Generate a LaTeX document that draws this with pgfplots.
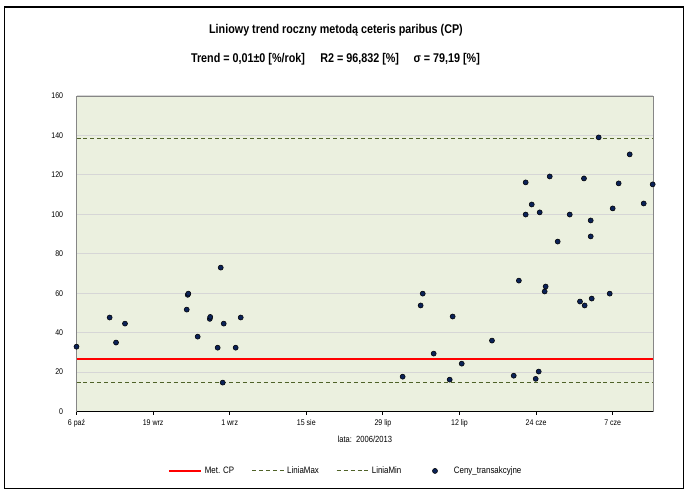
\documentclass[border=0pt]{standalone}
\usepackage{fontspec}
\setmainfont{Liberation Sans}[FakeStretch=0.85]
\usepackage{pgfplots}
\pgfplotsset{compat=1.18}
\definecolor{plotbg}{HTML}{EBF0DF}
\definecolor{gridc}{HTML}{D6D6D6}
\definecolor{boxc}{HTML}{868686}
\definecolor{olivec}{HTML}{4F6228}
\definecolor{dotc}{HTML}{0B2257}
\pgfplotsset{
  linelegend/.style={legend image code/.code={\draw[mark repeat=2,mark phase=2,##1] plot coordinates {(0pt,0pt)(12pt,0pt)(24pt,0pt)};}},
  dotlegend/.style={legend image code/.code={\path (0pt,0pt) (24pt,0pt); \draw[##1] plot[only marks,mark=*] coordinates {(12pt,0pt)};}},
}
\begin{document}
\begin{tikzpicture}
% picture frame, in pixels of the 693x495 reference (origin = bottom left of plot area)
\begin{scope}[x=0.75pt,y=-0.75pt,shift={(-76.5,-411.6)}]
\path (0,0) rectangle (693,495);
\draw[line width=1pt] (4.3,7) rectangle (683.3,488.3);
\node[font=\fontsize{9.5}{10}\selectfont\bfseries] at (336,30) {Liniowy trend roczny metodą ceteris paribus (CP)};
\node[font=\fontsize{9.5}{10}\selectfont\bfseries] at (248,59.5) {Trend = 0,01±0 [\%/rok]};
\node[font=\fontsize{9.5}{10}\selectfont\bfseries] at (359.7,59.5) {R2 = 96,832 [\%]};
\node[font=\fontsize{9.5}{10}\selectfont\bfseries] at (446.7,59.5) {σ = 79,19 [\%]};
\end{scope}
\begin{axis}[at={(0,0)},anchor=south west,scale only axis,
width=432.6pt,height=236.7pt,
xmin=0,xmax=7.53,ymin=0,ymax=160,clip=false,
xtick={0,1,...,7},
xticklabels={6 paź,19 wrz,1 wrz,15 sie,29 lip,12 lip,24 cze,7 cze},
ytick={0,20,...,160},
axis background/.style={fill=plotbg},
axis line style={draw=boxc},
ymajorgrids=true,grid style={gridc,line width=0.8pt},
tick label style={font=\fontsize{6.2}{7}\selectfont},
/pgf/number format/assume math mode=true,
tick align=outside,xtick pos=bottom,ytick pos=left,
major tick length=2.5pt,
xtick style={black,line width=0.6pt},
ytick style={draw=none},
yticklabel style={xshift=-4pt},
xlabel={lata:\ \ 2006/2013},
xlabel style={font=\fontsize{6.7}{7}\selectfont,at={(rel axis cs:0.5,0)},anchor=center,yshift=-20.6pt},
legend style={at={(axis description cs:0.467,-0.188)},anchor=center,draw=none,fill=none,
  legend columns=4,font=\fontsize{7}{8}\selectfont,
  /tikz/every even column/.append style={column sep=11pt}},
linelegend,
]
\addplot[red,line width=1.9pt] coordinates {(0,26.7)(7.53,26.7)};
\addplot[olivec,line width=0.7pt,dash pattern=on 3pt off 2.2pt] coordinates {(0,138.7)(7.53,138.7)};
\addplot[olivec,line width=0.7pt,dash pattern=on 3pt off 2.2pt] coordinates {(0,14.6)(7.53,14.6)};
\addplot[only marks,mark=*,mark size=1.9pt,mark options={fill=dotc,draw=black,line width=0.4pt},dotlegend] coordinates {
(0.000,32.9)(0.433,47.7)(0.516,35.0)(0.633,44.6)(1.439,51.7)(1.452,59.2)(1.460,59.8)
(1.582,38.0)(1.740,47.0)(1.746,48.0)(1.843,32.4)(1.883,73.0)(1.909,14.7)(1.922,44.6)
(2.078,32.4)(2.144,47.7)(4.258,17.7)(4.493,53.8)(4.520,59.8)(4.663,29.4)(4.872,16.2)
(4.911,48.2)(5.029,24.3)(5.424,36.0)(5.708,18.2)(5.775,66.4)(5.864,116.2)(5.864,99.9)
(5.943,105.0)(5.995,16.6)(6.034,20.3)(6.047,101.0)(6.112,60.9)(6.125,63.4)(6.178,119.2)
(6.282,86.2)(6.439,99.9)(6.573,55.8)(6.625,118.2)(6.634,53.8)(6.713,96.9)(6.713,88.8)
(6.726,57.3)(6.817,139.0)(6.961,59.8)(7.000,103.0)(7.078,115.7)(7.222,130.4)(7.405,105.5)
(7.522,115.2)};
\draw[black,line width=0.8pt] (rel axis cs:0,0) -- (rel axis cs:1,0);
\legend{Met. CP,LiniaMax,LiniaMin,Ceny\_transakcyjne}
\end{axis}
\end{tikzpicture}
\end{document}
